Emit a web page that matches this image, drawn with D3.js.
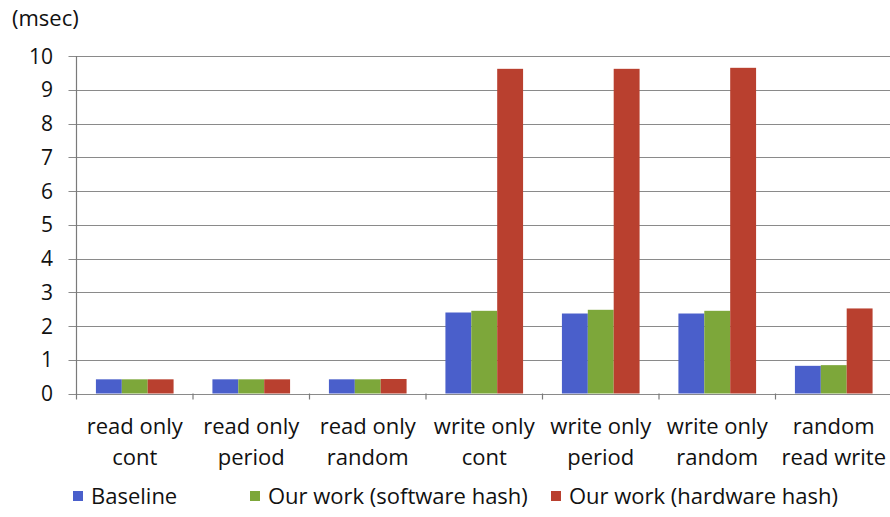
<!DOCTYPE html>
<html>
<head>
<meta charset="utf-8">
<script src="https://cdn.jsdelivr.net/npm/d3@7"></script>
<style>
  html, body { margin: 0; padding: 0; background: #fff; }
  svg { display: block; }
  text { font-family: "Open Sans", "Lato", sans-serif; fill: #111; }
</style>
</head>
<body>
<svg id="chart" width="890" height="517"></svg>
<script>
// Access latency per workload (msec)
const categories = [
  ["read only", "cont"],
  ["read only", "period"],
  ["read only", "random"],
  ["write only", "cont"],
  ["write only", "period"],
  ["write only", "random"],
  ["random", "read write"]
];
const seriesNames = ["Baseline", "Our work (software hash)", "Our work (hardware hash)"];
const baseline = [0.42, 0.42, 0.42, 2.40, 2.37, 2.37, 0.82];
const softwareHash = [0.42, 0.42, 0.42, 2.45, 2.48, 2.45, 0.84];
const hardwareHash = [0.42, 0.42, 0.43, 9.62, 9.62, 9.65, 2.52];
const yTicks = [0, 1, 2, 3, 4, 5, 6, 7, 8, 9, 10];
const colors = ["#4a5fcb", "#7da73a", "#b9402f"];

const series = [baseline, softwareHash, hardwareHash];

const svg = d3.select("#chart");
const plotLeft = 76.5, plotRight = 892, plotTop = 56, plotBottom = 393.5;

const x = d3.scaleBand()
  .domain(d3.range(categories.length))
  .range([plotLeft, plotRight])
  .paddingInner(0)
  .paddingOuter(0);

// Excel-style gap width of 150%: three bars plus 1.5 bar widths of gap per band
const barW = x.bandwidth() / 4.5;
const groupOffset = barW * 0.75;

const y = d3.scaleLinear().domain([0, 10]).range([plotBottom, plotTop]);

// Horizontal gridlines
svg.append("g")
  .selectAll("line")
  .data(yTicks)
  .join("line")
  .attr("x1", plotLeft - 8)
  .attr("x2", plotRight)
  .attr("y1", d => Math.round(y(d)) + 0.5)
  .attr("y2", d => Math.round(y(d)) + 0.5)
  .attr("stroke", "#8a8a8a")
  .attr("stroke-width", 1.2);

// Y tick labels
svg.append("g")
  .selectAll("text")
  .data(yTicks)
  .join("text")
  .attr("x", 53)
  .attr("y", d => y(d) + 7.5)
  .attr("text-anchor", "end")
  .attr("font-size", 21)
  .text(d => d);

// Bars
svg.append("g")
  .selectAll("g")
  .data(series)
  .join("g")
  .attr("fill", (d, i) => colors[i])
  .each(function (vals, si) {
    d3.select(this).selectAll("rect")
      .data(vals)
      .join("rect")
      .attr("x", (v, ci) => x(ci) + groupOffset + si * barW)
      .attr("y", v => y(v))
      .attr("width", barW)
      .attr("height", v => y(0) - y(v));
  });

// Vertical axis line
svg.append("line")
  .attr("x1", plotLeft).attr("x2", plotLeft)
  .attr("y1", plotTop).attr("y2", plotBottom + 0.5)
  .attr("stroke", "#7a7a7a")
  .attr("stroke-width", 1.2);

// Category tick marks
svg.append("g")
  .selectAll("line")
  .data(d3.range(categories.length + 1))
  .join("line")
  .attr("x1", i => (i < categories.length ? x(i) : plotRight))
  .attr("x2", i => (i < categories.length ? x(i) : plotRight))
  .attr("y1", plotBottom)
  .attr("y2", plotBottom + 6)
  .attr("stroke", "#7a7a7a")
  .attr("stroke-width", 1.2);

// Category labels (two lines)
const catG = svg.append("g")
  .selectAll("text")
  .data(categories)
  .join("text")
  .attr("text-anchor", "middle")
  .attr("font-size", 22);
catG.each(function (lines, i) {
  const t = d3.select(this);
  lines.forEach((ln, k) => {
    t.append("tspan")
      .attr("x", x(i) + x.bandwidth() / 2)
      .attr("y", 434 + k * 31)
      .text(ln);
  });
});

// Y-axis unit label
svg.append("text")
  .attr("x", 12)
  .attr("y", 26)
  .attr("font-size", 22)
  .text("(msec)");

// Legend
const legendPos = [73, 250, 551];
const legend = svg.append("g")
  .selectAll("g")
  .data(seriesNames)
  .join("g")
  .attr("transform", (d, i) => `translate(${legendPos[i]},491)`);
legend.append("rect")
  .attr("width", 10)
  .attr("height", 10)
  .attr("fill", (d, i) => colors[i]);
legend.append("text")
  .attr("x", 18)
  .attr("y", 13)
  .attr("font-size", 22)
  .text(d => d);
</script>
</body>
</html>
